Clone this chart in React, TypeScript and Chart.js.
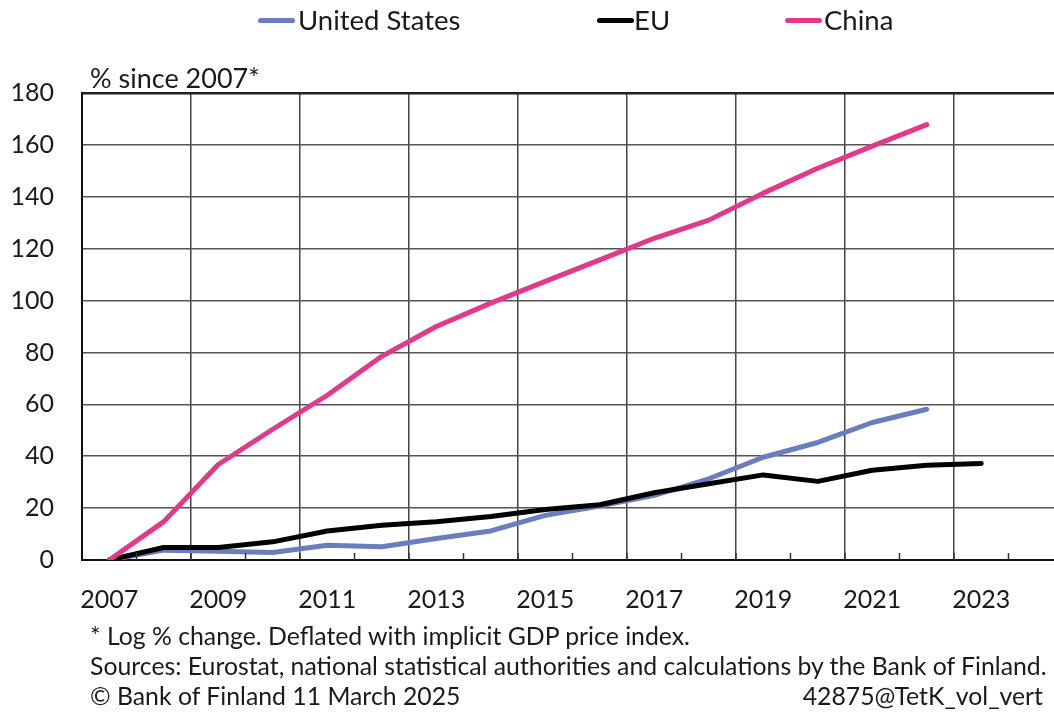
import React, { useEffect, useRef } from "react";
import { Chart, registerables } from "chart.js";

Chart.register(...registerables);

const years = [
  "2007", "2008", "2009", "2010", "2011", "2012", "2013", "2014", "2015",
  "2016", "2017", "2018", "2019", "2020", "2021", "2022", "2023", "2024",
];
const unitedStates = [0, 3.8, 3.4, 2.9, 5.7, 5.1, 8.3, 11.2, 17.2, 20.8, 24.9, 31.3, 39.6, 45.3, 53.0, 58.1, null, null];
const eu = [0, 4.8, 4.8, 7.0, 11.2, 13.4, 14.7, 16.8, 19.5, 21.3, 25.9, 29.4, 32.8, 30.3, 34.6, 36.5, 37.2, null];
const china = [0, 14.8, 36.8, 50.4, 63.5, 78.5, 90.0, 99.0, 107.4, 115.7, 124.0, 131.0, 141.4, 151.0, 159.5, 167.8, null, null];
const yTicks = [0, 20, 40, 60, 80, 100, 120, 140, 160, 180];

const US_COLOR = "#6a7dbf";
const EU_COLOR = "#000000";
const CN_COLOR = "#e4398a";
const FONT = "Lato, 'Open Sans', sans-serif";

const innerTicks = {
  id: "innerTicks",
  afterDatasetsDraw(chart: any) {
    const x = chart.scales.x;
    const { ctx } = chart;
    const n = x.ticks.length;
    const step = (x.right - x.left) / n;
    ctx.save();
    ctx.strokeStyle = "#333";
    ctx.lineWidth = 1.5;
    for (let i = 1; i < n; i++) {
      const px = x.left + i * step;
      ctx.beginPath();
      ctx.moveTo(px, x.top);
      ctx.lineTo(px, x.top - 7);
      ctx.stroke();
    }
    ctx.restore();
  },
};

export default function App() {
  const ref = useRef<HTMLCanvasElement>(null);
  useEffect(() => {
    document.body.style.margin = "0";
    document.body.style.overflow = "hidden";
    const chart = new Chart(ref.current!, {
      type: "line",
      data: {
        labels: years,
        datasets: [
          { label: "United States", data: unitedStates, borderColor: US_COLOR, backgroundColor: US_COLOR, order: 2 },
          { label: "EU", data: eu, borderColor: EU_COLOR, backgroundColor: EU_COLOR, order: 1 },
          { label: "China", data: china, borderColor: CN_COLOR, backgroundColor: CN_COLOR, order: 0 },
        ].map((d) => ({
          ...d,
          borderWidth: 5,
          pointRadius: 0,
          tension: 0,
          borderCapStyle: "round" as const,
          borderJoinStyle: "round" as const,
          spanGaps: false,
        })),
      },
      options: {
        animation: false,
        responsive: false,
        layout: { padding: { top: 93, right: 7, left: 0, bottom: 0 } },
        plugins: { legend: { display: false }, tooltip: { enabled: false } },
        scales: {
          x: {
            offset: true,
            grid: {
              offset: true,
              drawTicks: false,
              color: (c: any) => (c.index % 2 === 0 ? "#444" : "rgba(0,0,0,0)"),
              lineWidth: 1.5,
            },
            border: { display: true, color: "#111", width: 2 },
            ticks: {
              autoSkip: false,
              maxRotation: 0,
              padding: 25,
              color: "#1a1a1a",
              font: { family: FONT, size: 25 },
              callback: (_v: any, i: number) => (i % 2 === 0 ? years[i] : ""),
            },
            afterFit: (s: any) => {
              s.height = 157;
            },
          },
          y: {
            min: 0,
            max: 180,
            afterBuildTicks: (s: any) => {
              s.ticks = yTicks.map((v) => ({ value: v }));
            },
            grid: {
              drawTicks: false,
              color: (c: any) => (c.index === yTicks.length - 1 ? "#222" : "#555"),
              lineWidth: (c: any) => (c.index === yTicks.length - 1 ? 2.5 : 1.5),
            },
            border: { display: true, color: "#111", width: 2 },
            ticks: {
              padding: 28,
              color: "#1a1a1a",
              font: { family: FONT, size: 25 },
            },
            afterFit: (s: any) => {
              s.width = 82;
            },
          },
        },
      },
      plugins: [innerTicks],
    });
    return () => chart.destroy();
  }, []);

  const txt: React.CSSProperties = {
    position: "absolute",
    fontFamily: FONT,
    color: "#1a1a1a",
    whiteSpace: "nowrap",
    lineHeight: 1,
  };
  const swatch = (left: number, color: string): React.CSSProperties => ({
    position: "absolute",
    left,
    top: 18,
    width: 37,
    height: 5,
    borderRadius: 3,
    background: color,
  });

  return (
    <div style={{ position: "relative", width: 1054, height: 717, overflow: "hidden", background: "#fff" }}>
      <canvas ref={ref} width={1070} height={717} style={{ position: "absolute", left: 0, top: 0, width: 1070, height: 717 }} />
      <div style={swatch(258, US_COLOR)} />
      <div style={{ ...txt, left: 298, top: 6, fontSize: 27.5 }}>United States</div>
      <div style={swatch(597, EU_COLOR)} />
      <div style={{ ...txt, left: 634, top: 6, fontSize: 27.5 }}>EU</div>
      <div style={swatch(785, CN_COLOR)} />
      <div style={{ ...txt, left: 824, top: 6, fontSize: 27.5 }}>China</div>
      <div style={{ ...txt, left: 90, top: 64, fontSize: 27 }}>% since 2007*</div>
      <div style={{ ...txt, left: 90, top: 624, fontSize: 24.8 }}>* Log % change. Deflated with implicit GDP price index.</div>
      <div style={{ ...txt, left: 90, top: 654, fontSize: 24.8 }}>Sources: Eurostat, national statistical authorities and calculations by the Bank of Finland.</div>
      <div style={{ ...txt, left: 90, top: 684, fontSize: 24.8 }}>© Bank of Finland 11 March 2025</div>
      <div style={{ ...txt, right: 11, top: 684, fontSize: 24.8 }}>42875@TetK_vol_vert</div>
    </div>
  );
}
